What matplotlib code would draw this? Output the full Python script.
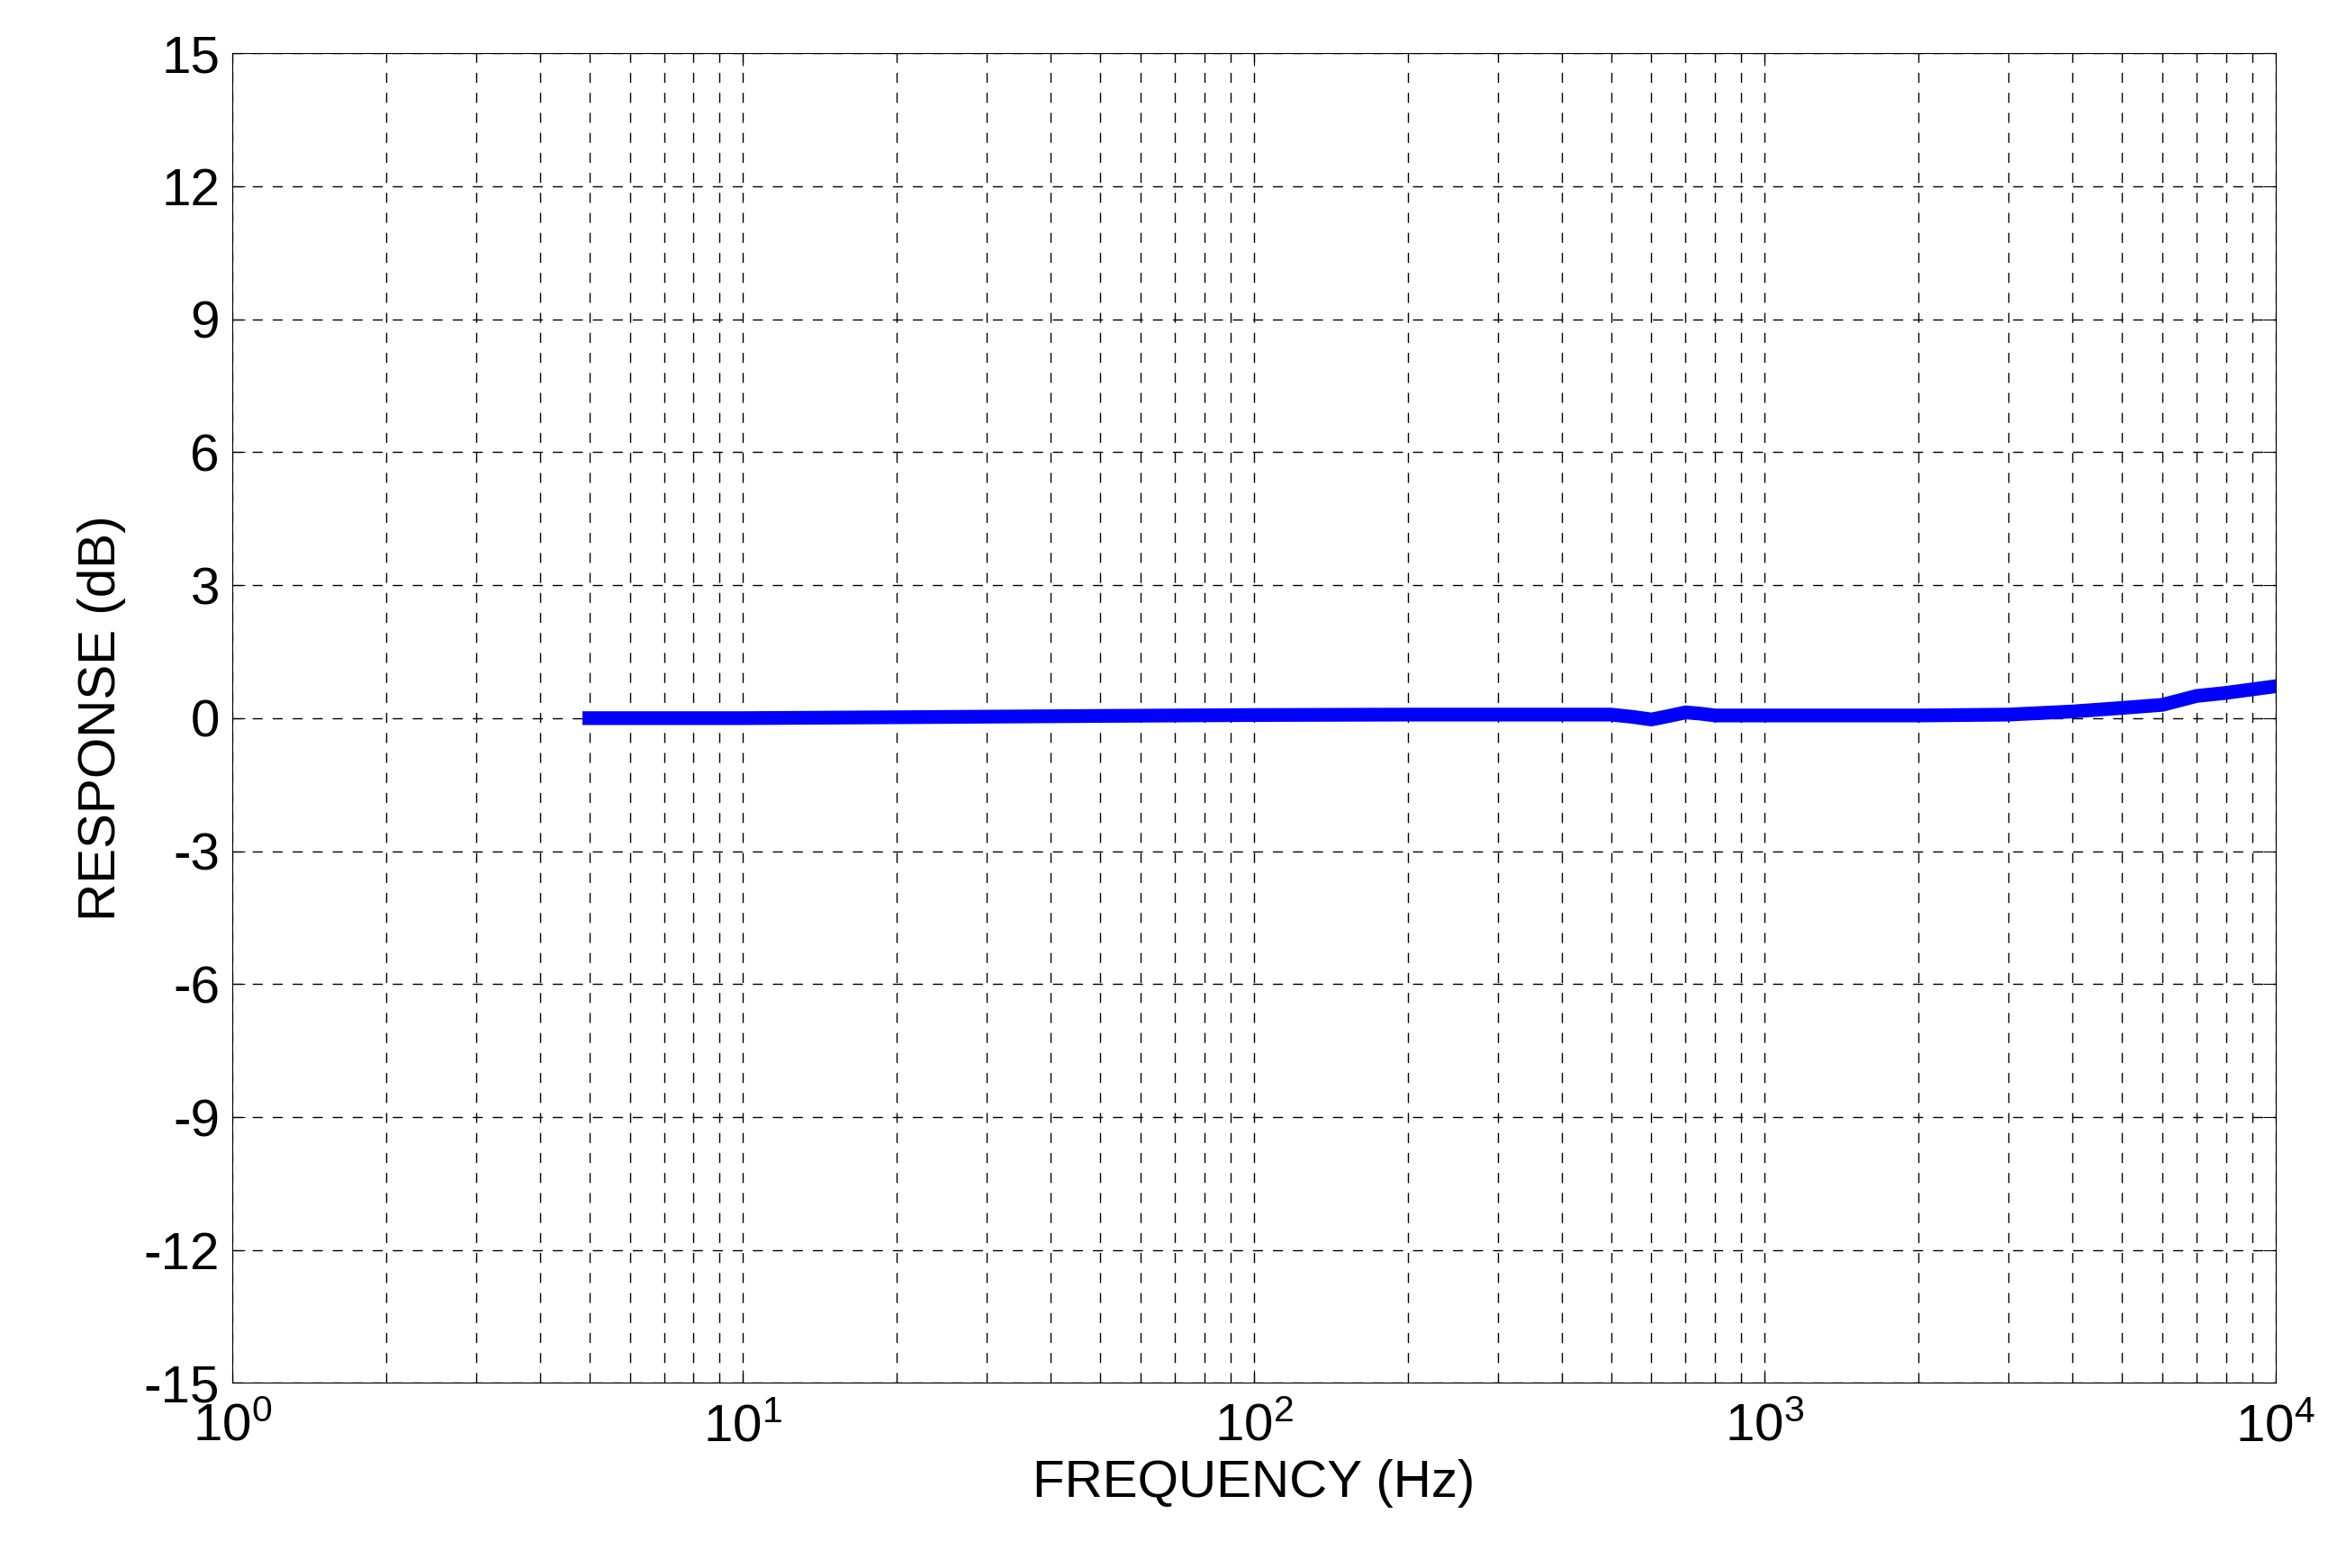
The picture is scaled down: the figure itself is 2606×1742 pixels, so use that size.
import numpy as np
import matplotlib
matplotlib.use('Agg')
import matplotlib.pyplot as plt

freq = [5, 10, 20, 50, 100, 200, 500, 550, 600, 650, 700, 750, 800, 1000, 2000, 3000, 4000, 5000, 6000, 7000, 8000, 10000]
resp = [0.0, 0.0, 0.02, 0.05, 0.07, 0.08, 0.08, 0.03, -0.03, 0.05, 0.13, 0.1, 0.06, 0.06, 0.06, 0.08, 0.15, 0.23, 0.3, 0.5, 0.57, 0.72]
yticks = [-15, -12, -9, -6, -3, 0, 3, 6, 9, 12, 15]

plt.rcParams['font.family'] = ['Liberation Sans', 'DejaVu Sans']
plt.rcParams['axes.unicode_minus'] = False
fig = plt.figure(figsize=(26.06, 17.42), dpi=100)
ax = fig.add_axes([0.099, 0.118, 0.871, 0.848])
ax.semilogx(freq, resp, color='#0000ff', lw=11, solid_joinstyle='miter')
ax.set_xlim(1, 1e4)
ax.set_ylim(-15, 15)
ax.set_yticks(yticks)
ax.grid(True, which='both', ls=(0, (8, 8)), color='black', lw=1)
ax.tick_params(labelsize=42, direction='in', length=10, which='both', top=True, right=True)
ax.tick_params(axis='x', pad=16)
ax.tick_params(axis='y', pad=10)
ax.tick_params(which='minor', length=6)
ax.set_xlabel('FREQUENCY (Hz)', fontsize=42, labelpad=6)
ax.set_ylabel('RESPONSE (dB)', fontsize=42, labelpad=14)
fig.savefig('out.png')
